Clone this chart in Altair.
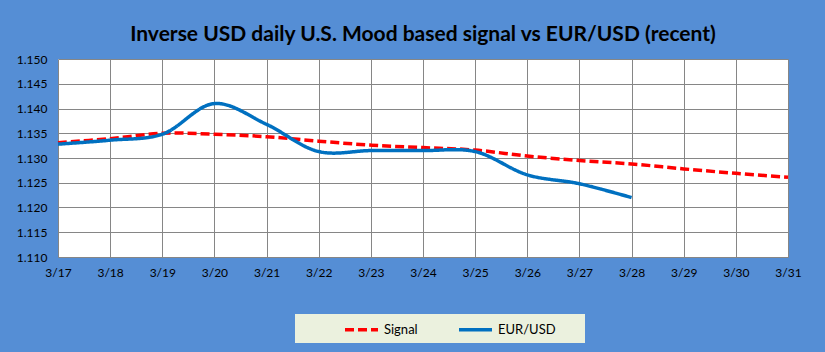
import altair as alt
import pandas as pd

dates = ["3/17", "3/18", "3/19", "3/20", "3/21", "3/22", "3/23", "3/24",
         "3/25", "3/26", "3/27", "3/28", "3/29", "3/30", "3/31"]
signal = [1.1331, 1.1339, 1.1350, 1.1348, 1.1343, 1.1334, 1.1326, 1.1321,
          1.1316, 1.1304, 1.1295, 1.1288, 1.1278, 1.1269, 1.1261]
eurusd = [1.1328, 1.1336, 1.1348, 1.1410, 1.1368, 1.1313, 1.1315, 1.1315,
          1.1313, 1.1266, 1.1248, 1.1220]
y_ticks = [1.110, 1.115, 1.120, 1.125, 1.130, 1.135, 1.140, 1.145, 1.150]
series_names = ["Signal", "EUR/USD"]
series_colors = ["#FF0000", "#0070C0"]
title_text = "Inverse USD daily U.S. Mood based signal vs EUR/USD (recent)"

rows = []
for d, v in zip(dates, signal):
    rows.append({"date": d, "series": "Signal", "value": v})
for d, v in zip(dates, eurusd):
    rows.append({"date": d, "series": "EUR/USD", "value": v})
df = pd.DataFrame(rows)

FONT = "Lato"

legend_props = dict(title=None, orient="none", legendX=285, legendY=252,
                    direction="horizontal", symbolType="stroke",
                    symbolSize=1089, symbolStrokeWidth=3.5,
                    labelFont=FONT, labelFontSize=13,
                    labelColor="#000000", labelOffset=4,
                    columnPadding=34, padding=0)

legend_bg = alt.Chart(alt.Data(values=[{"k": 1}])).mark_rect(
    fill="#EBF1DE"
).encode(
    x=alt.value(237), x2=alt.value(527), y=alt.value(255), y2=alt.value(284)
)

lines = alt.Chart(df).mark_line(interpolate="catmull-rom", strokeWidth=3.5).encode(
    x=alt.X("date:O", sort=dates,
            scale=alt.Scale(type="point", domain=dates, padding=0),
            axis=alt.Axis(title=None, labelAngle=0, ticks=False, domain=False,
                          grid=True, gridColor="#868686", gridWidth=1,
                          labelFont=FONT, labelFontSize=12, labelColor="#000000",
                          labelPadding=10)),
    y=alt.Y("value:Q",
            scale=alt.Scale(domain=[1.110, 1.150], nice=False, zero=False),
            axis=alt.Axis(title=None, values=y_ticks, format=".3f", ticks=False,
                          domain=False, grid=True, gridColor="#868686", gridWidth=1,
                          labelFont=FONT, labelFontSize=12, labelColor="#000000",
                          labelPadding=11)),
    color=alt.Color("series:N",
                    scale=alt.Scale(domain=series_names, range=series_colors),
                    legend=alt.Legend(**legend_props)),
    strokeDash=alt.StrokeDash("series:N",
                              scale=alt.Scale(domain=series_names, range=[[9, 4], [1, 0]]),
                              legend=alt.Legend(**legend_props)),
    detail="series:N",
)

chart = alt.layer(legend_bg, lines).properties(
    width=730, height=198,
    autosize=alt.AutoSizeParams(type="none"),
    padding={"left": 58, "top": 59, "right": 37, "bottom": 95},
    title=alt.TitleParams(title_text, font=FONT, fontSize=21, fontWeight="bold",
                          color="#000000", anchor="middle", baseline="alphabetic",
                          offset=17, dy=26),
).configure(background="#558ED5").configure_view(stroke=None, fill="#FFFFFF")

chart.save("out.html", embed_options={"renderer": "svg", "actions": False})
